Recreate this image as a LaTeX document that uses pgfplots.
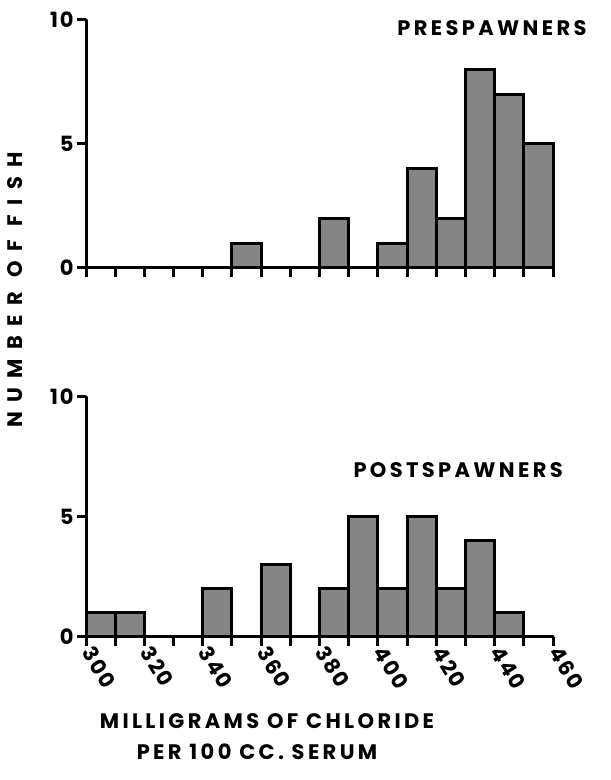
\documentclass[border=0pt]{standalone}
\usepackage{fontspec}
\setmainfont{Poppins}
\usepackage{pgfplots}
\pgfplotsset{compat=1.18}
\newfontfamily\lab{Poppins}[LetterSpace=16]
\newfontfamily\ylab{Poppins}[LetterSpace=45]
\newfontfamily\tlab{Poppins}[LetterSpace=8]

\pgfplotsset{
  fishhist/.style={
    scale only axis,
    xmin=300, xmax=460, ymin=0, ymax=10,
    axis lines=left,
    axis line style={-, line width=3pt, line cap=round},
    xtick={300,320,...,460},
    minor xtick={310,330,...,450},
    ytick={0,5,10},
    tick align=outside,
    major tick length=9pt,
    minor tick length=9pt,
    every tick/.style={black, line width=3pt},
    tick label style={font=\tlab\fontsize{21}{21}\selectfont\bfseries},
    /pgf/number format/assume math mode=true,
    clip=false,
  },
  bars/.style={ybar interval, fill=black!48, draw=black, line width=3pt},
}

\begin{document}
\begin{tikzpicture}
\useasboundingbox (0pt,0pt) rectangle (611pt,780pt);

% prespawners
\begin{axis}[fishhist, at={(86pt,512pt)}, anchor=south west,
    width=467pt, height=248pt, xticklabels={}]
\addplot[bars] coordinates {
  (300,0) (310,0) (320,0) (330,0) (340,0) (350,1) (360,0) (370,0)
  (380,2) (390,0) (400,1) (410,4) (420,2) (430,8) (440,7) (450,5) (460,0)
};
\end{axis}

% postspawners
\begin{axis}[fishhist, at={(86pt,143pt)}, anchor=south west,
    width=467pt, height=240pt,
    xticklabel style={rotate=-58, anchor=west, inner sep=4pt, xshift=-1pt}]
\addplot[bars] coordinates {
  (300,1) (310,1) (320,0) (330,0) (340,2) (350,0) (360,3) (370,0)
  (380,2) (390,5) (400,2) (410,5) (420,2) (430,4) (440,1) (450,0) (460,0)
};
\end{axis}

\node[anchor=east, font=\lab\fontsize{21}{21}\selectfont\bfseries] at (590pt,752pt) {PRESPAWNERS};
\node[anchor=west, font=\lab\fontsize{21}{21}\selectfont\bfseries] at (350pt,310pt) {POSTSPAWNERS};
\node[rotate=90, font=\ylab\fontsize{21}{21}\selectfont\bfseries] at (15pt,490pt) {NUMBER OF FISH};
\node[font=\lab\fontsize{21}{21}\selectfont\bfseries] at (267pt,59pt) {MILLIGRAMS OF CHLORIDE};
\node[font=\lab\fontsize{21}{21}\selectfont\bfseries] at (257pt,28pt) {PER 100 CC. SERUM};
\end{tikzpicture}
\end{document}
